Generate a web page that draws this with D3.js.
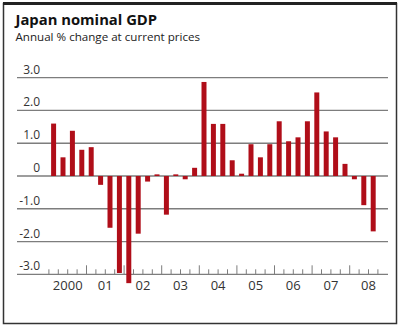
<!DOCTYPE html>
<html>
<head>
<meta charset="utf-8">
<script src="https://cdn.jsdelivr.net/npm/d3@7"></script>
<style>
  body { margin: 0; background: #fff; }
  svg { display: block; }
  text { font-family: "Open Sans", Lato, sans-serif; }
</style>
</head>
<body>
<div class="container"></div>
<script>
// quarterly % change, 2000Q1 .. 2008Q3
const years = ["2000", "01", "02", "03", "04", "05", "06", "07", "08"];
const gdpChange = [
  1.6, 0.57, 1.38, 0.8,
  0.88, -0.27, -1.58, -2.96,
  -3.27, -1.76, -0.17, 0.05,
  -1.18, 0.05, -0.1, 0.25,
  2.87, 1.59, 1.59, 0.48,
  0.07, 0.97, 0.57, 0.97,
  1.67, 1.06, 1.18, 1.67,
  2.55, 1.36, 1.18, 0.37,
  -0.1, -0.89, -1.69
];
const yTicks = [3, 2, 1, 0, -1, -2, -3];

const width = 400, height = 326;
const svg = d3.select(".container").append("svg")
  .attr("width", width)
  .attr("height", height);

// frame
svg.append("rect")
  .attr("x", 3.5).attr("y", 3.5)
  .attr("width", 393).attr("height", 320)
  .attr("fill", "none")
  .attr("stroke", "#333")
  .attr("stroke-width", 1.5);
svg.append("line")
  .attr("x1", 3).attr("x2", 397)
  .attr("y1", 3.5).attr("y2", 3.5)
  .attr("stroke", "#222")
  .attr("stroke-width", 3);

svg.append("text")
  .attr("x", 15.5).attr("y", 25)
  .style("font-size", "14.8px")
  .style("font-weight", "bold")
  .attr("fill", "#111")
  .text("Japan nominal GDP");
svg.append("text")
  .attr("x", 15.5).attr("y", 40.5)
  .style("font-size", "11.6px")
  .attr("fill", "#222")
  .text("Annual % change at current prices");

const quarters = [];
years.forEach(yr => { for (let q = 1; q <= 4; q++) quarters.push(yr + "Q" + q); });

const x = d3.scaleBand()
  .domain(quarters)
  .range([48.9, 387.3])
  .paddingInner(0.47)
  .paddingOuter(0.235);

const y = d3.scaleLinear()
  .domain([-3, 3])
  .range([274.3, 77.7]);

// gridlines
svg.append("g").selectAll("line")
  .data(yTicks)
  .enter().append("line")
  .attr("x1", 17).attr("x2", 388)
  .attr("y1", d => y(d)).attr("y2", d => y(d))
  .attr("stroke", "#7d7d7d")
  .attr("stroke-width", 1.3);

svg.append("g").selectAll("text")
  .data(yTicks)
  .enter().append("text")
  .attr("x", 40)
  .attr("y", d => y(d) - 4)
  .attr("text-anchor", "end")
  .style("font-size", "12px")
  .attr("fill", "#333")
  .text(d => d === 0 ? "0" : d3.format(".1f")(d).replace("−", "-"));

// bars
svg.append("g").selectAll("rect")
  .data(gdpChange)
  .enter().append("rect")
  .attr("x", (d, i) => x(quarters[i]))
  .attr("width", x.bandwidth())
  .attr("y", d => y(Math.max(0, d)))
  .attr("height", d => Math.abs(y(d) - y(0)))
  .attr("fill", "#b00e19");

// quarter ticks, taller at year boundaries
const step = x.step();
const x0 = x.range()[0];
svg.append("g").selectAll("line")
  .data(d3.range(0, quarters.length))
  .enter().append("line")
  .attr("x1", i => x0 + i * step)
  .attr("x2", i => x0 + i * step)
  .attr("y1", y(-3))
  .attr("y2", i => y(-3) - (i % 4 === 0 && i > 0 ? 9 : 5))
  .attr("stroke", "#7d7d7d")
  .attr("stroke-width", 1);

svg.append("g").selectAll("text")
  .data(years)
  .enter().append("text")
  .attr("x", (d, i) => x0 + (i * 4 + 2) * step)
  .attr("y", 290)
  .attr("text-anchor", "middle")
  .style("font-size", "13px")
  .attr("fill", "#333")
  .text(d => d);
</script>
</body>
</html>
